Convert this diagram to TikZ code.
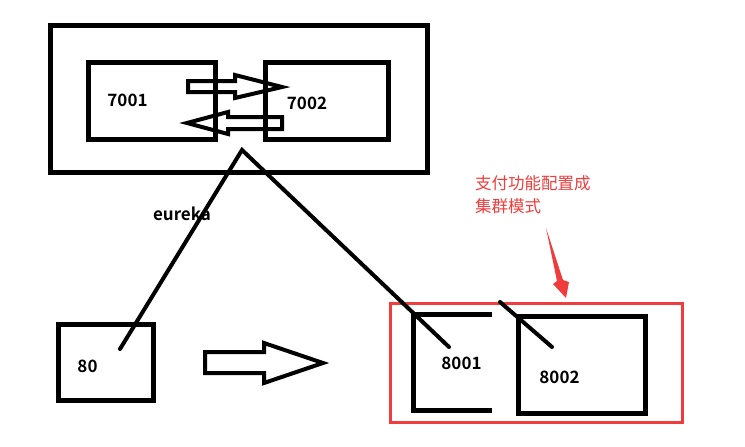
\documentclass[tikz,border=0pt]{standalone}
\usepackage{fontspec}
\setmainfont{Noto Sans CJK SC}[BoldFont={Noto Sans CJK SC Bold}]
\definecolor{notered}{RGB}{240,60,60}
\begin{document}
\begin{tikzpicture}[x=1pt,y=-1pt,
  box/.style={draw=black,line width=5pt,minimum width=#1,inner sep=0pt},
  lbl/.style={font=\bfseries\fontsize{17}{17}\selectfont,inner sep=0pt},
  link/.style={draw=black,line width=4pt,line cap=round},
  hollow/.style={draw=black,line width=4pt,line join=miter},
  note/.style={font=\fontsize{16.5}{23}\selectfont,text=notered,align=left,inner sep=0pt}]
\useasboundingbox (0,0) rectangle (745,447);

% eureka cluster
\node[box=377pt,minimum height=147pt] (outer) at (238.5,98.5) {};
\draw[hollow] (188,81) -- (235,81) -- (235,75) -- (282,87) -- (235,98) -- (235,92) -- (188,92) -- cycle;
\draw[hollow] (187,123) -- (228,112) -- (228,117) -- (282,117) -- (282,129) -- (228,129) -- (228,134) -- cycle;
\node[box=127pt,minimum height=77pt] (b7001) at (151.5,100.5) {};
\node[box=123pt,minimum height=77pt] (b7002) at (326.5,100.5) {};
\node[lbl] (t7001) at (127.5,100) {7001};
\node[lbl] (t7002) at (307,103) {7002};

% consumer and provider boxes
\node[box=95pt,minimum height=76pt] (b80) at (105.5,362) {};
\node[lbl] (t80) at (87.5,366) {80};
\draw[hollow] (205,352) -- (264,352) -- (264,343) -- (323,363) -- (264,383) -- (264,373) -- (205,373) -- cycle;

\node[draw=notered,line width=3pt,minimum width=292pt,minimum height=119pt,inner sep=0pt] (cluster) at (536,362.5) {};
\coordinate (p1a) at (492,314);
\coordinate (p1b) at (492,410);
\draw[black,line width=5pt] (p1a) -- (413,314) -- (413,410) -- (p1b);
\node[lbl] (t8001) at (461.5,363) {8001};
\node[box=127pt,minimum height=97pt] (b8002) at (581.5,364.5) {};
\node[lbl] (t8002) at (559.5,377) {8002};

% registry links
\coordinate (apex) at (242,150);
\coordinate (e80) at (120,349);
\coordinate (e8001) at (449,347);
\coordinate (s8002) at (500,302);
\coordinate (e8002) at (552,347);
\draw[link] (e80) -- (apex) -- (e8001);
\draw[link] (s8002) -- (e8002);
\node[lbl] (eureka) at (182,214) {eureka};

% annotation
\node[note,anchor=north west] (note) at (475,175) {支付功能配置成\\集群模式};
\fill[notered] (546,228) -- (563,280) -- (569,282) -- (566,298) -- (553,284) -- (557,281) -- cycle;
\end{tikzpicture}
\end{document}
